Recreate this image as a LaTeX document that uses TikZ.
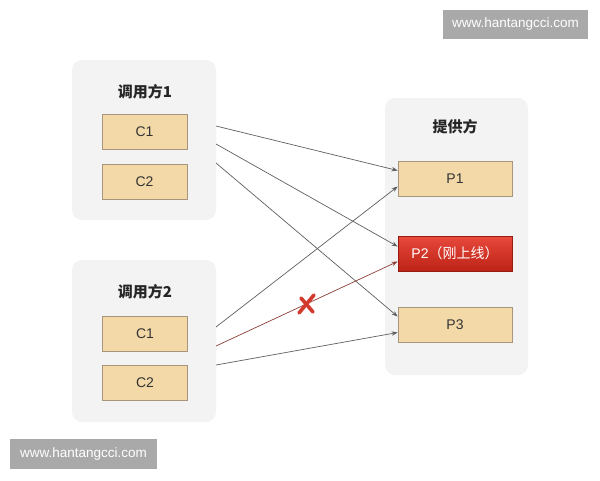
\documentclass[tikz,border=0pt]{standalone}
\usepackage{fontspec}
\setmainfont{Liberation Sans}
\newfontfamily\cjk{Noto Sans CJK SC}
\usetikzlibrary{arrows.meta,shadings}
\definecolor{grpbg}{HTML}{F3F3F3}
\definecolor{nodefill}{HTML}{F4D9A8}
\definecolor{nodeline}{HTML}{A8967C}
\definecolor{linkc}{HTML}{606060}
\definecolor{redtop}{HTML}{E8493B}
\definecolor{redbot}{HTML}{BC2317}
\definecolor{redline}{HTML}{8E4038}
\definecolor{crossc}{HTML}{D23A2E}
\definecolor{wmgray}{HTML}{A9A9A9}
\begin{document}
\begin{tikzpicture}[x=1pt,y=-1pt,
  group/.style={fill=grpbg,rounded corners=10pt,minimum width=#1},
  member/.style={fill=nodefill,draw=nodeline,line width=0.7pt,minimum width=85pt,minimum height=35pt,inner sep=0pt,font=\fontsize{14}{16}\selectfont,text=black!80},
  prov/.style={member,minimum width=114pt},
  newprov/.style={prov,draw=redbot!80!black,top color=redtop,bottom color=redbot,text=white},
  title/.style={font=\cjk\bfseries\fontsize{15}{17}\selectfont,text=black!85},
  link/.style={draw=linkc,line width=0.7pt,-{Stealth[length=6pt,width=4.5pt]}},
  badlink/.style={link,draw=redline},
  wm/.style={fill=wmgray,text=white,inner sep=0pt,font=\fontsize{13.5}{15}\selectfont}
]
\useasboundingbox (0,0) rectangle (600,480);
\fill[white] (0,0) rectangle (600,480);
% groups
\node[group=144pt,minimum height=160pt] (g1) at (144,140) {};
\node[group=144pt,minimum height=162pt] (g2) at (144,341) {};
\node[group=143pt,minimum height=277pt] (gp) at (456.5,236.5) {};
\node[title] (t1) at (145,92) {调用方1};
\node[title] (t2) at (145,292) {调用方2};
\node[title] (tp) at (455,127) {提供方};
% members
\node[member] (c1a) at (144.5,132) {C1};
\node[member] (c2a) at (144.5,181.5) {C2};
\node[member] (c1b) at (145,333.5) {C1};
\node[member] (c2b) at (145,383) {C2};
\node[prov] (p1) at (455,178.5) {P1};
\node[newprov] (p2) at (455,253.5) {P2{\cjk（刚上线）}};
\node[prov] (p3) at (455,324.5) {P3};
% link start points on group edges
\coordinate (a1) at (216,126);
\coordinate (a2) at (216,144);
\coordinate (a3) at (216,163);
\coordinate (b1) at (216,327);
\coordinate (b2) at (216,346);
\coordinate (b3) at (216,365);
\draw[link] (a1) -- ([yshift=8pt]p1.west);
\draw[link] (a2) -- ([yshift=7pt]p2.west);
\draw[link] (a3) -- ([yshift=8pt]p3.west);
\draw[link] (b1) -- ([yshift=-8pt]p1.west);
\draw[badlink] (b2) -- ([yshift=-8pt]p2.west);
\draw[link] (b3) -- ([yshift=-8pt]p3.west);
% red cross
\coordinate (x) at (307,304);
\draw[crossc,line width=3.6pt,line cap=round] ([shift={(7,-9)}]x) -- ([shift={(-8,9)}]x);
\draw[crossc,line width=3.6pt,line cap=round] ([shift={(-6,-6)}]x) -- ([shift={(6,8)}]x);
% watermarks
\node[wm,minimum width=145pt,minimum height=29pt] (w1) at (515.5,24.5) {www.hantangcci.com};
\node[wm,minimum width=147pt,minimum height=30pt] (w2) at (83.5,454) {www.hantangcci.com};
\end{tikzpicture}
\end{document}
